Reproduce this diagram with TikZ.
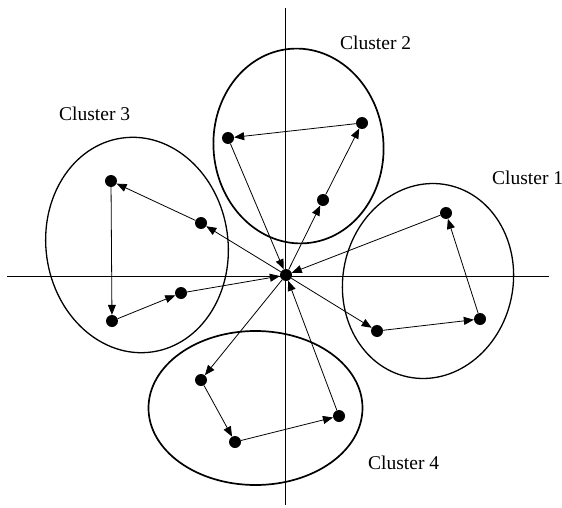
\documentclass[tikz,border=0pt]{standalone}
\usepackage{fontspec}
\setmainfont{Liberation Serif}
\usetikzlibrary{arrows.meta}
\tikzset{
  dot/.style={circle,fill=black,inner sep=0pt,minimum size=12pt},
  arr/.style={line width=0.8pt,-{Triangle[length=10pt,width=8pt]}},
  axis/.style={line width=0.9pt},
  clthick/.style={line width=1.7pt},
  clthin/.style={line width=1.3pt},
  lbl/.style={anchor=base west,inner sep=0pt,font=\fontsize{19.5}{21}\selectfont}
}
\begin{document}
\begin{tikzpicture}[x=1pt,y=1pt]
\useasboundingbox (0,0) rectangle (562,-508);
% axes
\coordinate (xl) at (7,-276);
\coordinate (xr) at (549,-276);
\coordinate (yt) at (285,-8);
\coordinate (yb) at (285,-505);
\draw[axis] (xl) -- (xr);
\draw[axis] (yt) -- (yb);
% cluster ellipses
\coordinate (e1) at (428,-281);
\coordinate (e2) at (298.5,-146);
\coordinate (e3) at (137,-245);
\coordinate (e4) at (255.5,-408);
\draw[clthin,rotate around={-12:(e1)}] (e1) ellipse [x radius=85pt,y radius=98pt];
\draw[clthick,rotate around={5:(e2)}] (e2) ellipse [x radius=85pt,y radius=97.5pt];
\draw[clthin,rotate around={8:(e3)}] (e3) ellipse [x radius=91pt,y radius=108pt];
\draw[clthick] (e4) ellipse [x radius=107pt,y radius=77pt];
% labels
\node[lbl] (l1) at (492,-184) {Cluster 1};
\node[lbl] (l2) at (340,-50) {Cluster 2};
\node[lbl] (l3) at (59,-121) {Cluster 3};
\node[lbl] (l4) at (368,-469) {Cluster 4};
% dots
\node[dot] (o) at (286,-275) {};
\node[dot] (a1) at (446,-213) {};
\node[dot] (a2) at (480,-319) {};
\node[dot] (a3) at (377,-331) {};
\node[dot] (b1) at (228,-138) {};
\node[dot] (b2) at (362,-123) {};
\node[dot] (b3) at (323,-200) {};
\node[dot] (c1) at (111,-181) {};
\node[dot] (c2) at (201,-223) {};
\node[dot] (c3) at (112,-321) {};
\node[dot] (c4) at (181,-293) {};
\node[dot] (d1) at (201,-380) {};
\node[dot] (d2) at (235,-442) {};
\node[dot] (d3) at (339,-416) {};
% cluster 1
\draw[arr] (o) -- (a3);
\draw[arr] (a3) -- (a2);
\draw[arr] (a2) -- (a1);
\draw[arr] (a1) -- (o);
% cluster 2
\draw[arr] (o) -- (b3);
\draw[arr] (b3) -- (b2);
\draw[arr] (b2) -- (b1);
\draw[arr] (b1) -- (o);
% cluster 3
\draw[arr] (o) -- (c2);
\draw[arr] (c2) -- (c1);
\draw[arr] (c1) -- (c3);
\draw[arr] (c3) -- (c4);
\draw[arr] (c4) -- (o);
% cluster 4
\draw[arr] (o) -- (d1);
\draw[arr] (d1) -- (d2);
\draw[arr] (d2) -- (d3);
\draw[arr] (d3) -- (o);
\end{tikzpicture}
\end{document}
